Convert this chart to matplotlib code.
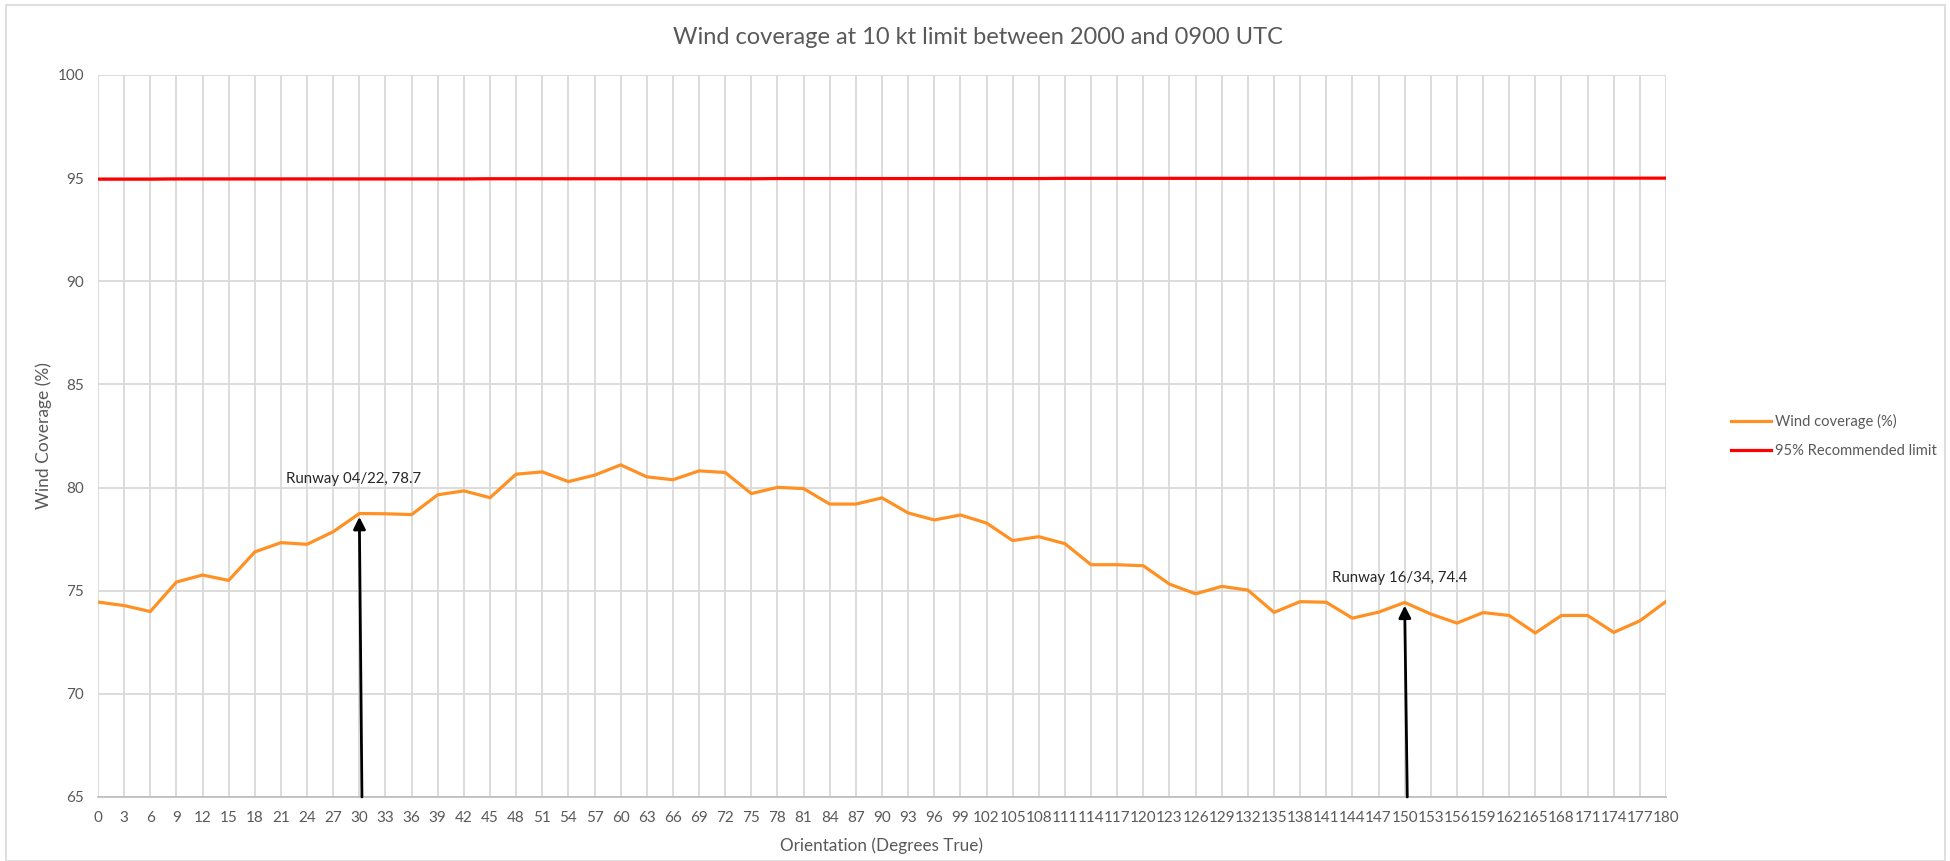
import matplotlib
matplotlib.use("Agg")
import matplotlib.pyplot as plt
from matplotlib.patches import Rectangle

plt.rcParams['font.family'] = ['Lato', 'DejaVu Sans']

# orientation in degrees true, every 3 degrees
orientation = list(range(0, 181, 3))

# wind coverage (%)
coverage = [74.45, 74.28, 73.99, 75.42, 75.76, 75.50, 76.88, 77.33, 77.25, 77.86,
            78.74, 78.73, 78.69, 79.65, 79.84, 79.51, 80.65, 80.76, 80.29, 80.60,
            81.10, 80.52, 80.38, 80.81, 80.73, 79.71, 80.01, 79.95, 79.20, 79.20,
            79.50, 78.77, 78.43, 78.67, 78.28, 77.43, 77.62, 77.28, 76.26, 76.26,
            76.21, 75.32, 74.85, 75.21, 75.03, 73.95, 74.47, 74.44, 73.67, 73.96,
            74.43, 73.87, 73.43, 73.94, 73.80, 72.95, 73.80, 73.80, 72.98, 73.54,
            74.48]

# 95% recommended limit (drawn as a series, very slightly rising)
limit = [94.95, 94.95, 94.95, 94.96, 94.96, 94.96, 94.96, 94.96, 94.96, 94.96,
         94.96, 94.96, 94.96, 94.96, 94.96, 94.97, 94.97, 94.97, 94.97, 94.97,
         94.97, 94.97, 94.97, 94.97, 94.97, 94.97, 94.98, 94.98, 94.98, 94.98,
         94.98, 94.98, 94.98, 94.98, 94.98, 94.98, 94.98, 94.99, 94.99, 94.99,
         94.99, 94.99, 94.99, 94.99, 94.99, 94.99, 94.99, 94.99, 94.99, 95.00,
         95.00, 95.00, 95.00, 95.00, 95.00, 95.00, 95.00, 95.00, 95.00, 95.00,
         95.00]

# runway annotations: (label, orientation, coverage)
runways = [("Runway 04/22, 78.7", 30, 78.7), ("Runway 16/34, 74.4", 150, 74.4)]

grey_text = "#595959"
grid_col = "#d9d9d9"

fig = plt.figure(figsize=(19.5, 8.61), dpi=100)
fig.patches.append(Rectangle((6 / 1950, 0.0), 1939 / 1950, 1 - 5 / 861,
                             transform=fig.transFigure, fill=False,
                             edgecolor="#d9d9d9", linewidth=1.2))

ax = fig.add_axes([98 / 1950, 1 - 797 / 861, (1666 - 98) / 1950, (797 - 75) / 861])

ax.plot(orientation, coverage, color="#ff9124", linewidth=2.3, label="Wind coverage (%)",
        zorder=3, solid_joinstyle="miter")
ax.plot(orientation, limit, color="#ff0000", linewidth=2.3, label="95% Recommended limit",
        zorder=3)

ax.set_xlim(0, 180)
ax.set_ylim(65, 100)
ax.set_xticks(orientation)
ax.set_xticklabels([str(o) for o in orientation])
ax.set_yticks(range(65, 101, 5))

ax.grid(True, color=grid_col, linewidth=1.3)
ax.set_axisbelow(True)
for side in ["top", "right", "left"]:
    ax.spines[side].set_visible(False)
ax.spines["bottom"].set_color("#bfbfbf")
ax.spines["bottom"].set_linewidth(1.3)
ax.tick_params(axis="both", length=0, labelsize=11, labelcolor=grey_text)
ax.tick_params(axis="x", pad=10)
ax.tick_params(axis="y", pad=10)

ax.set_xlabel("Orientation (Degrees True)", fontsize=12.3, color=grey_text, labelpad=9)
ax.set_ylabel("Wind Coverage (%)", fontsize=12.5, color=grey_text, labelpad=4)
fig.text(0.5015, 1 - 37 / 861, "Wind coverage at 10 kt limit between 2000 and 0900 UTC",
         ha="center", va="center", fontsize=17, color=grey_text)

# arrows from the axis up to the runway orientations
label_pos = [(29.3, 80.4), (149.4, 75.6)]
for (label, x, y), (tx, ty) in zip(runways, label_pos):
    ax.annotate("", xy=(x, y - 0.12), xytext=(x + 0.3, 65),
                arrowprops=dict(arrowstyle="-|>", color="black", lw=2,
                                mutation_scale=18, shrinkA=0, shrinkB=0),
                zorder=4)
    ax.text(tx, ty, label, ha="center", va="center", fontsize=10.8, color="#262626")

ax.legend(loc="center left", bbox_to_anchor=(1.033, 0.50), frameon=False,
          fontsize=10.6, labelcolor=grey_text, handlelength=2.7, handletextpad=0.3,
          labelspacing=1.0)

fig.savefig("out.png", dpi=100)
